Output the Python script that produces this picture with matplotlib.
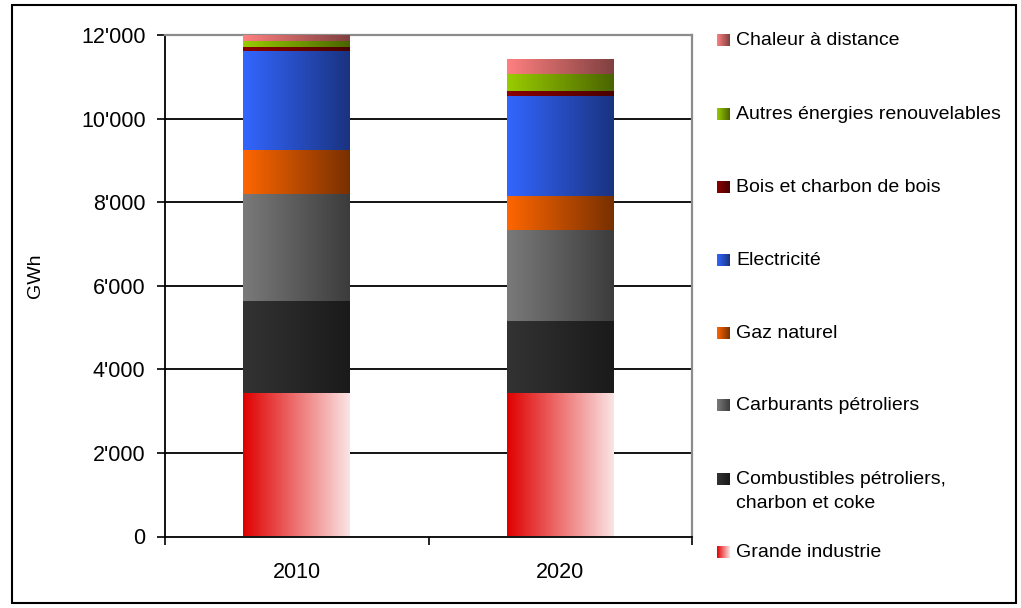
import numpy as np
import matplotlib
matplotlib.use('Agg')
import matplotlib.pyplot as plt
from matplotlib.colors import LinearSegmentedColormap
from matplotlib.patches import Rectangle
from matplotlib.ticker import FuncFormatter

plt.rcParams['font.family'] = ['Liberation Sans', 'DejaVu Sans']

years = ['2010', '2020']
series = ['Grande industrie', 'Combustibles pétroliers,\ncharbon et coke', 'Carburants pétroliers',
          'Gaz naturel', 'Electricité', 'Bois et charbon de bois',
          'Autres énergies renouvelables', 'Chaleur à distance']
grande_industrie = [3430, 3430]
combustibles = [2206, 1734]
carburants = [2567, 2171]
gaz_naturel = [1046, 820]
electricite = [2369, 2386]
bois = [96, 120]
autres_renouv = [143, 399]
chaleur = [143, 343]
values = [grande_industrie, combustibles, carburants, gaz_naturel, electricite, bois, autres_renouv, chaleur]

# gradient colours (left -> right) for each series
grads = [('#e00000', '#fbe4e4'), ('#333333', '#1a1a1a'), ('#7a7a7a', '#3c3c3c'),
         ('#ff6600', '#773000'), ('#3366ff', '#1a3380'), ('#8b0000', '#4a0000'),
         ('#99cc00', '#4a6400'), ('#ff8080', '#804040')]

W, H = 1021, 608
fig = plt.figure(figsize=(W / 100, H / 100), dpi=100)
ax = fig.add_axes([165 / W, 1 - 536.5 / H, (692 - 165) / W, (536.5 - 35) / H])

ramp = np.linspace(0, 1, 256).reshape(1, -1)

def grad_bar(patch, c0, c1):
    cmap = LinearSegmentedColormap.from_list('g', [c0, c1])
    x0, y0 = patch.get_x(), patch.get_y()
    ax.imshow(ramp, cmap=cmap, aspect='auto', interpolation='bilinear',
              extent=[x0, x0 + patch.get_width(), y0, y0 + patch.get_height()], zorder=3)
    patch.set_visible(False)

x = np.arange(len(years))
bottom = np.zeros(len(years))
for vals, (c0, c1) in zip(values, grads):
    bars = ax.bar(x, vals, width=0.405, bottom=bottom, zorder=3)
    for p in bars:
        grad_bar(p, c0, c1)
    bottom += np.array(vals)

ax.set_xlim(-0.5, 1.5)
ax.set_ylim(0, 12000)
ax.set_yticks(np.arange(0, 12001, 2000))
ax.yaxis.set_major_formatter(FuncFormatter(lambda v, p: f'{int(v):,}'.replace(',', "'")))
for yv in range(2000, 12000, 2000):
    ax.axhline(yv, color='black', lw=1.3, zorder=1)

ax.set_xticks([-0.5, 0.5, 1.5])
ax.set_xticklabels([])
ax.set_xticks(x, minor=True)
ax.set_xticklabels(years, minor=True)
ax.tick_params(axis='x', which='major', length=6, width=1.2, direction='out')
ax.tick_params(axis='x', which='minor', length=0, pad=18, labelsize=15.5)
ax.tick_params(axis='y', length=6, width=1.2, direction='out', pad=8, labelsize=15.5)

for s in ['left', 'bottom']:
    ax.spines[s].set_color('black')
    ax.spines[s].set_linewidth(1.3)
for s in ['top', 'right']:
    ax.spines[s].set_color('#8c8c8c')
    ax.spines[s].set_linewidth(1.6)

# overlay in pixel coords for y label, legend and frame
ov = fig.add_axes([0, 0, 1, 1], zorder=5)
ov.axis('off')
ov.add_patch(Rectangle((12, 5), 1004, 598, fill=False, ec='black', lw=1.5))
ov.text(35, 276, 'GWh', fontsize=14, rotation=90, ha='center', va='center')

slots = [552, 479, 405, 333, 260, 187, 114, 40]
for name, (c0, c1), ys in zip(series, grads, slots):
    cmap = LinearSegmentedColormap.from_list('g', [c0, c1])
    ov.imshow(ramp, cmap=cmap, aspect='auto', extent=[717, 730, ys + 6, ys - 6])
    ov.text(736, ys - 8, name, fontsize=14, va='top', ha='left', linespacing=1.55)
ov.set_xlim(0, W)
ov.set_ylim(H, 0)

fig.savefig('out.png', dpi=100)
